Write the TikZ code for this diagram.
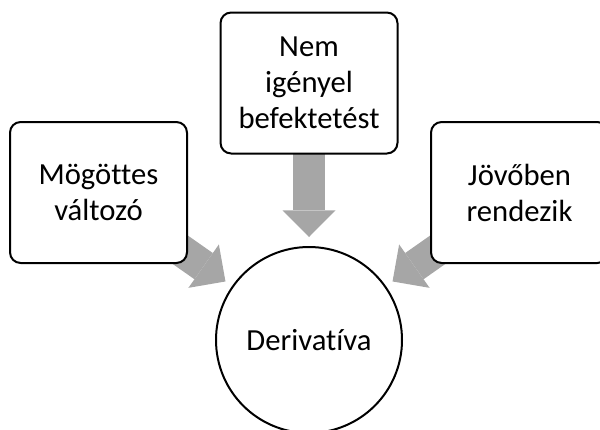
\documentclass[tikz,border=0pt]{standalone}
\usepackage{fontspec}
\setmainfont[Ligatures=NoCommon]{Carlito}
\usetikzlibrary{arrows.meta,backgrounds}
\definecolor{arrowgray}{RGB}{166,166,166}
\begin{document}
\begin{tikzpicture}[x=0.75pt,y=-0.75pt,
  box/.style={draw, line width=1.5pt, rounded corners=8pt, fill=white,
    minimum width=132.75pt, minimum height=105.75pt, align=center, inner sep=0pt,
    font=\fontsize{23}{27}\selectfont},
  circ/.style={draw, circle, line width=1.5pt, fill=white, minimum size=139.5pt,
    inner sep=0pt, font=\fontsize{23}{27}\selectfont},
  bigarrow/.style={draw=arrowgray, line width=24pt,
    -{Triangle[width=39.75pt,length=20pt,line width=0pt]}}]
\useasboundingbox (0,0) rectangle (600,429);
\node[box] (top) at (309,83) {Nem\\igényel\\befektetést};
\node[box] (left) at (98.5,192.5) {Mögöttes\\változó};
\node[box] (right) at (519.5,192.5) {Jövőben\\rendezik};
\node[circ] (c) at (309,340) {Derivatíva};
\begin{scope}[on background layer]
  \draw[bigarrow, shorten <=-20pt, shorten >=6.75pt] (top) -- (c);
  \draw[bigarrow, shorten <=-30pt, shorten >=6pt] (left) -- (c);
  \draw[bigarrow, shorten <=-30pt, shorten >=6pt] (right) -- (c);
\end{scope}
\end{tikzpicture}
\end{document}
